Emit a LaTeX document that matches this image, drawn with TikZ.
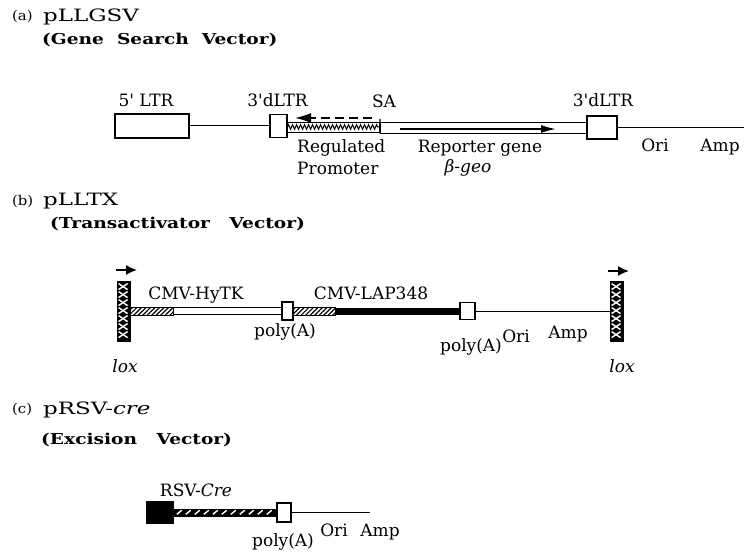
\documentclass[tikz,border=0pt]{standalone}
\usepackage{fontspec}
\usepackage{graphicx}
\setmainfont{DejaVu Serif}
\usetikzlibrary{arrows.meta,patterns.meta,decorations.pathmorphing}
\begin{document}
\begin{tikzpicture}[x=1pt,y=-1pt,
  txt/.style={font=\fontsize{17}{19}\selectfont, inner sep=0pt, anchor=base},
  tag/.style={font=\fontsize{13.5}{15}\selectfont, inner sep=0pt, anchor=base west},
  ttl/.style={font=\fontsize{17}{19}\selectfont, inner sep=0pt, anchor=base west},
  sub/.style={font=\bfseries\fontsize{15}{17}\selectfont, inner sep=0pt, anchor=base west},
  box/.style={draw, line width=1.1pt, fill=white, inner sep=0pt},
  ln/.style={line width=1pt},
  hatch/.style={draw, line width=0.9pt, inner sep=0pt, pattern={Lines[angle=45,distance=3.2pt,line width=1.2pt]}},
  loxbox/.style={draw, fill=black, line width=0.8pt, inner sep=0pt, minimum width=13pt, minimum height=60pt},
  strip/.style={draw, line width=0.9pt, fill=white, inner sep=0pt}
]
\useasboundingbox (0,0) rectangle (744,553);

% ---------- (a) ----------
\node[tag] (ta) at (12,21) {\scalebox{1.1}[1]{(a)}};
\node[ttl] (na) at (43,22) {\scalebox{1.35}[1]{pLLGSV}};
\node[sub] (sa) at (42,45) {\scalebox{1.24}[1]{(Gene\ \ Search\ \ Vector)}};

\node[box, minimum width=74pt, minimum height=24pt] (ltr5) at (152,126) {};
\node[box, minimum width=17pt, minimum height=23pt] (dl1) at (278.5,126) {};
\node[strip, minimum width=93pt, minimum height=10pt] (prom) at (333.5,127) {};
\draw[line width=1pt, decorate, decoration={zigzag,segment length=4pt,amplitude=2.3pt}] ([xshift=1pt]prom.west) -- ([xshift=-1pt]prom.east);
\node[strip, minimum width=207pt, minimum height=11pt] (rep) at (483.5,127.5) {};
\node[box, minimum width=30pt, minimum height=23pt] (dl2) at (602,127.5) {};
\coordinate (endA) at (744,127.5);
\coordinate (saT) at (380,119);
\coordinate (ra1) at (400,129);
\coordinate (ra2) at (556,129);
\coordinate (da1) at (372,118);
\coordinate (da2) at (295,118);
\draw[ln] (ltr5.east) -- (ltr5.east -| dl1.west);
\draw[ln] (dl2.east) -- (endA);
\draw[line width=1.2pt] (saT) -- (rep.south west);
\draw[line width=1.5pt, -{Latex[length=15pt,width=8pt]}] (ra1) -- (ra2);
\draw[line width=1.6pt, dash pattern=on 9pt off 5pt, -{Latex[length=16pt,width=10pt]}] (da1) -- (da2);

\node[txt] (l5ltr) at (146,107) {5\textquotesingle{} LTR};
\node[txt] (l3a) at (277.5,107) {3\textquotesingle dLTR};
\node[txt] (lsa) at (384,108) {SA};
\node[txt] (l3b) at (603,107) {3\textquotesingle dLTR};
\node[txt, anchor=base west] (lreg) at (297,153) {Regulated};
\node[txt, anchor=base west] (lpro) at (297,175) {Promoter};
\node[txt] (lrep) at (480,153) {Reporter gene};
\node[txt] (lgeo) at (468,173) {\textit{β-geo}};
\node[txt] (loria) at (655,152) {Ori};
\node[txt] (lampa) at (720,152) {Amp};

% ---------- (b) ----------
\node[tag] (tb) at (12,206) {\scalebox{1.1}[1]{(b)}};
\node[ttl] (nb) at (43,206) {\scalebox{1.35}[1]{pLLTX}};
\node[sub] (sb) at (50,229) {\scalebox{1.24}[1]{(Transactivator\ \ \ Vector)}};

\node[loxbox] (loxL) at (123.5,311) {};
\node[loxbox] (loxR) at (616.5,311) {};
\foreach \n in {loxL,loxR}{
  \foreach \k in {0,...,6}{
    \draw[white, line width=1.4pt] ([shift={(2,{3+8*\k})}]\n.north west) -- ++(9,6);
    \draw[white, line width=1.4pt] ([shift={(11,{3+8*\k})}]\n.north west) -- ++(-9,6);
  }
}
\node[hatch, minimum width=43pt, minimum height=8pt] (h1) at (151.5,311) {};
\node[strip, minimum width=109pt, minimum height=7pt] (hy) at (227.5,311) {};
\node[box, minimum width=11pt, minimum height=18pt] (p1) at (287.5,311) {};
\node[hatch, minimum width=42pt, minimum height=8pt] (h2) at (314,311) {};
\node[box, minimum width=15pt, minimum height=17pt] (p2) at (467.5,311) {};
\draw[line width=7pt] (h2.east) -- (p2.west);
\draw[ln] (p2.east) -- (loxR.west);
\coordinate (aL1) at (116,270);
\coordinate (aL2) at (137,270);
\coordinate (aR1) at (608,271);
\coordinate (aR2) at (629,271);
\draw[line width=1.6pt, -{Latex[length=11pt,width=10pt]}] (aL1) -- (aL2);
\draw[line width=1.6pt, -{Latex[length=11pt,width=10pt]}] (aR1) -- (aR2);

\node[txt] (lhy) at (196,300) {CMV-HyTK};
\node[txt] (llap) at (371,300) {CMV-LAP348};
\node[txt] (lpa1) at (285,336) {poly(A)};
\node[txt] (lpa2) at (471,351) {poly(A)};
\node[txt] (lorib) at (516,342) {Ori};
\node[txt] (lampb) at (568,338) {Amp};
\node[txt] (lloxL) at (125,372) {\textit{lox}};
\node[txt] (lloxR) at (622,372) {\textit{lox}};

% ---------- (c) ----------
\node[tag] (tc) at (12,413) {\scalebox{1.1}[1]{(c)}};
\node[ttl] (nc) at (43,414) {\scalebox{1.35}[1]{pRSV-\textit{cre}}};
\node[sub] (sc) at (41,444) {\scalebox{1.24}[1]{(Excision\ \ \ Vector)}};

\node[draw, fill=black, inner sep=0pt, minimum width=27pt, minimum height=22pt] (rsv) at (159.5,512) {};
\node[draw, fill=black, inner sep=0pt, minimum width=104pt, minimum height=7pt] (cre) at (225,512.5) {};
\foreach \x in {4,13,...,96}{
  \draw[white, line width=1.4pt] ([shift={(\x,5.5)}]cre.north west) -- ++(5,-4);
}
\node[box, minimum width=14pt, minimum height=19pt] (p3) at (284,512.5) {};
\coordinate (endC) at (370,512.5);
\draw[ln] (p3.east) -- (endC);

\node[txt] (lrsv) at (196,496) {RSV-\textit{Cre}};
\node[txt] (lpa3) at (283,546) {poly(A)};
\node[txt] (loric) at (334,536) {Ori};
\node[txt] (lampc) at (380,536) {Amp};
\end{tikzpicture}
\end{document}
